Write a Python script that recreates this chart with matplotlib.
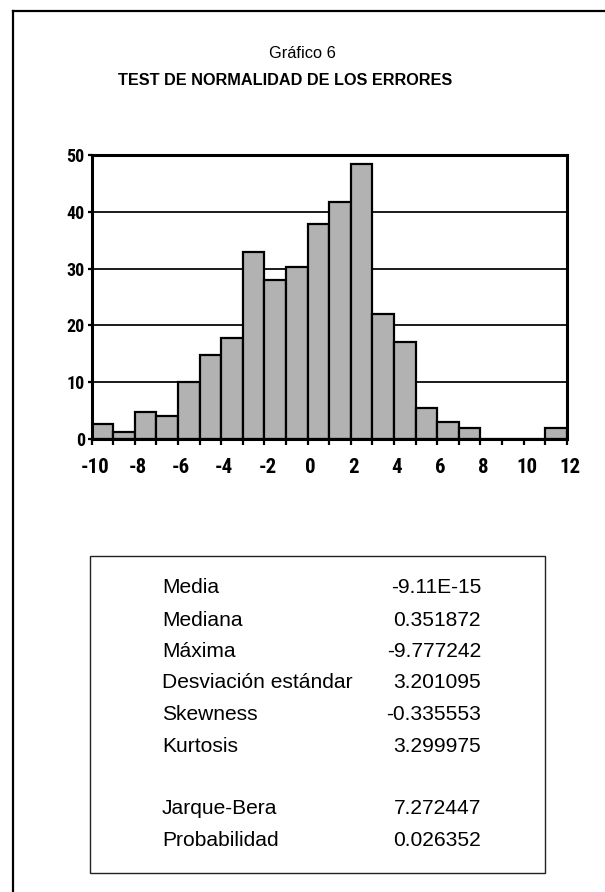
import matplotlib
matplotlib.use("Agg")
import matplotlib.pyplot as plt
from matplotlib.lines import Line2D
from matplotlib.patches import Rectangle
from matplotlib.ticker import MultipleLocator, FixedLocator
from matplotlib.transforms import ScaledTranslation

# ---- data ----
bin_left = list(range(-10, 12))
counts = [2.7, 1.3, 4.7, 4.0, 10.0, 14.8, 17.7, 33.0, 28.0, 30.2, 37.8,
          41.8, 48.4, 22.0, 17.1, 5.5, 3.0, 2.0, 0, 0, 0, 2.0]
x_ticks = [-10, -8, -6, -4, -2, 0, 2, 4, 6, 8, 10, 12]
y_ticks = [0, 10, 20, 30, 40, 50]

stat_labels = ["Media", "Mediana", "Máxima", "Desviación estándar",
               "Skewness", "Kurtosis", "Jarque-Bera", "Probabilidad"]
stat_values = ["-9.11E-15", "0.351872", "-9.777242", "3.201095",
               "-0.335553", "3.299975", "7.272447", "0.026352"]

title1 = "Gráfico 6"
title2 = "TEST DE NORMALIDAD DE LOS ERRORES"

W, H = 605, 892
fig = plt.figure(figsize=(W / 100, H / 100), dpi=100)
fig.patch.set_facecolor("white")

def fx(px):
    return px / W

def fy(py):
    return 1 - py / H

# outer frame (left and top edges visible)
fig.add_artist(Line2D([fx(13), fx(13)], [fy(11), fy(H + 5)], color="black",
                      lw=1.6, transform=fig.transFigure))
fig.add_artist(Line2D([fx(13), fx(W + 5)], [fy(11), fy(11)], color="black",
                      lw=1.6, transform=fig.transFigure))

# titles
reg = ["Liberation Sans", "DejaVu Sans"]
fig.text(fx(302), fy(58.5), title1, ha="center", va="baseline",
         fontsize=11.8, family=reg)
fig.text(fx(285.5), fy(85), title2, ha="center", va="baseline",
         fontsize=11.7, fontweight="bold", family=reg)

# histogram axes
left, right, top, bottom = 91.7, 566.7, 155, 439
ax = fig.add_axes([fx(left), fy(bottom), fx(right - left), (bottom - top) / H])
ax.bar(bin_left, counts, width=1, align="edge", color="#b2b2b2",
       edgecolor="black", linewidth=1.6, zorder=3)
ax.set_xlim(-10, 12)
ax.set_ylim(0, 50)
for v in y_ticks[1:-1]:
    ax.axhline(v, color="#1a1a1a", lw=1.4, zorder=1)
for s in ax.spines.values():
    s.set_linewidth(2.2)
    s.set_zorder(4)

narrow = ["Roboto Condensed", "DejaVu Sans"]
ax.xaxis.set_major_locator(FixedLocator(x_ticks))
ax.xaxis.set_minor_locator(MultipleLocator(1))
ax.set_xticklabels([str(t) for t in x_ticks], fontsize=15,
                   fontweight="bold", family=narrow)
ax.yaxis.set_major_locator(FixedLocator(y_ticks))
ax.set_yticklabels([str(t) for t in y_ticks], fontsize=13,
                   fontweight="bold", family=narrow)
ax.tick_params(axis="x", which="both", direction="out", length=4, width=1.6,
               pad=10)
ax.tick_params(axis="y", which="major", direction="out", length=3, width=1.6,
               pad=2)
shift = ScaledTranslation(3 / 100, 0, fig.dpi_scale_trans)
for lbl in ax.get_xticklabels():
    lbl.set_transform(lbl.get_transform() + shift)

# statistics box
fig.add_artist(Rectangle((fx(89.5), fy(873)), fx(545 - 89.5), (873 - 556) / H,
                         fill=False, edgecolor="#222222", lw=1.0,
                         transform=fig.transFigure))
baselines = [593.3, 625.5, 657, 688.5, 720.5, 752, 814, 845.7]
for lab, val, yb in zip(stat_labels, stat_values, baselines):
    fig.text(fx(162), fy(yb), lab, ha="left", va="baseline",
             fontsize=15.1, family=reg)
    fig.text(fx(481), fy(yb), val, ha="right", va="baseline",
             fontsize=15.1, family=reg)

fig.savefig("out.png", dpi=100, facecolor="white")
